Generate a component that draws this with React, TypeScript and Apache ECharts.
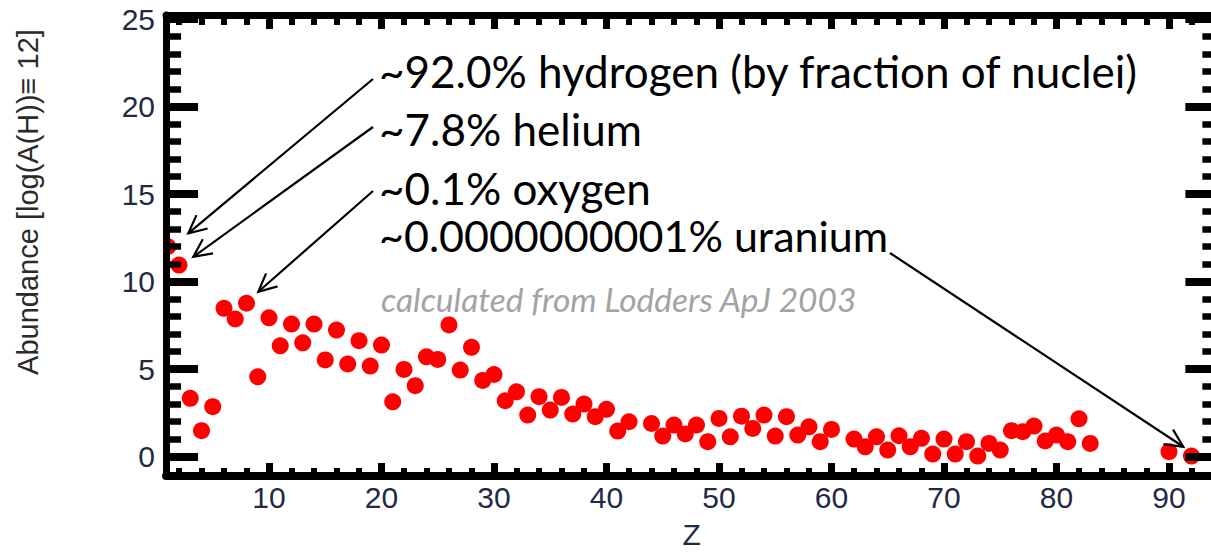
import React, { useEffect, useRef } from "react";
import * as echarts from "echarts";

// Atomic number Z and abundance log(A) with log(A(H)) = 12
const elementZ = [
  1, 2, 3, 4, 5, 6, 7, 8, 9, 10, 11, 12, 13, 14, 15, 16, 17, 18, 19, 20,
  21, 22, 23, 24, 25, 26, 27, 28, 29, 30, 31, 32, 33, 34, 35, 36, 37, 38, 39, 40,
  41, 42, 44, 45, 46, 47, 48, 49, 50, 51, 52, 53, 54, 55, 56, 57, 58, 59, 60,
  62, 63, 64, 65, 66, 67, 68, 69, 70, 71, 72, 73, 74, 75, 76, 77, 78, 79, 80,
  81, 82, 83, 90, 92,
];
const abundance = [
  12.0, 10.95, 3.34, 1.49, 2.86, 8.48, 7.87, 8.77, 4.57, 7.94, 6.34, 7.58, 6.51, 7.58, 5.53, 7.24, 5.3, 6.63, 5.18, 6.38,
  3.14, 4.99, 4.06, 5.71, 5.56, 7.53, 4.95, 6.25, 4.36, 4.7, 3.2, 3.71, 2.38, 3.43, 2.67, 3.39, 2.44, 3.01, 2.29, 2.71,
  1.47, 2.0, 1.9, 1.18, 1.81, 1.3, 1.81, 0.86, 2.19, 1.14, 2.32, 1.62, 2.38, 1.18, 2.29, 1.24, 1.71, 0.86, 1.56,
  1.01, 0.57, 1.14, 0.38, 1.2, 0.57, 1.05, 0.15, 1.01, 0.15, 0.86, 0.04, 0.76, 0.38, 1.49, 1.43, 1.75, 0.9, 1.24,
  0.86, 2.17, 0.76, 0.29, 0.04,
];

const xMajorTicks = [10, 20, 30, 40, 50, 60, 70, 80, 90];
const xMinorTicks = [
  2, 4, 6, 8, 12, 14, 16, 18, 22, 24, 26, 28, 32, 34, 36, 38, 42, 44, 46, 48,
  52, 54, 56, 58, 62, 64, 66, 68, 72, 74, 76, 78, 82, 84, 86, 88, 92,
];
const yMajorTicks = [0, 5, 10, 15, 20, 25];
const yMinorTicks = [1, 2, 3, 4, 6, 7, 8, 9, 11, 12, 13, 14, 16, 17, 18, 19, 21, 22, 23, 24];

const xTitle = "Z";
const yTitle = "Abundance [log(A(H))\u2261 12]";
const notes = [
  "~92.0% hydrogen (by fraction of nuclei)",
  "~7.8% helium",
  "~0.1% oxygen",
  "~0.0000000001% uranium",
];
const sourceNote = "calculated from Lodders ApJ 2003";
// Elements the arrows point at (Z)
const arrowTargets = [1, 2, 8, 92];

const TICK_COLOR = "#1f2a44";
const LABEL_FONT = "'Liberation Sans', Arial, sans-serif";
const NOTE_FONT = "Lato, 'Open Sans', sans-serif";

function makeXAxis(position: string, ticks: number[], length: number, width: number, lineWidth: number, labels: boolean) {
  return {
    type: "value",
    gridIndex: 0,
    position,
    min: 0.85,
    max: 94.3,
    z: 10,
    axisLine: { show: lineWidth > 0, onZero: false, lineStyle: { color: "#000", width: lineWidth || 1 } },
    axisTick: { show: true, inside: true, length, customValues: ticks, lineStyle: { color: "#000", width } },
    axisLabel: labels
      ? { show: true, customValues: ticks, margin: 6, color: TICK_COLOR, fontSize: 30, fontFamily: LABEL_FONT }
      : { show: false },
    splitLine: { show: false },
    minorTick: { show: false },
  };
}

function makeYAxis(position: string, ticks: number[], length: number, width: number, lineWidth: number, labels: boolean) {
  return {
    type: "value",
    gridIndex: 0,
    position,
    min: -1.1,
    max: 25.24,
    z: 10,
    axisLine: { show: lineWidth > 0, onZero: false, lineStyle: { color: "#000", width: lineWidth || 1 } },
    axisTick: { show: true, inside: true, length, customValues: ticks, lineStyle: { color: "#000", width } },
    axisLabel: labels
      ? { show: true, customValues: ticks, margin: 11, color: TICK_COLOR, fontSize: 30, fontFamily: LABEL_FONT }
      : { show: false },
    splitLine: { show: false },
    minorTick: { show: false },
  };
}

function arrow(sx: number, sy: number, tx: number, ty: number) {
  const ang = Math.atan2(sy - ty, sx - tx);
  const len = 20;
  const spread = 0.45;
  const a = [tx + len * Math.cos(ang + spread), ty + len * Math.sin(ang + spread)];
  const b = [tx + len * Math.cos(ang - spread), ty + len * Math.sin(ang - spread)];
  return [
    { type: "line", z: 50, shape: { x1: sx, y1: sy, x2: tx, y2: ty }, style: { stroke: "#000", lineWidth: 2.2 } },
    { type: "polyline", z: 50, shape: { points: [a, [tx, ty], b] }, style: { stroke: "#000", lineWidth: 2.2, fill: null } },
  ];
}

export default function App() {
  const ref = useRef<HTMLDivElement>(null);

  useEffect(() => {
    if (!ref.current) return;
    const chart = echarts.init(ref.current, null, { renderer: "svg" });
    const xAxis = makeXAxis("bottom", xMajorTicks, 13, 7, 8, true);
    (xAxis as any).name = xTitle;
    (xAxis as any).nameLocation = "middle";
    (xAxis as any).nameGap = 43;
    (xAxis as any).nameTextStyle = { color: TICK_COLOR, fontSize: 30, fontFamily: LABEL_FONT };

    chart.setOption({
      animation: false,
      backgroundColor: "#ffffff",
      grid: { left: 166.06, top: 15, width: 1051.3, height: 461, containLabel: false, outerBoundsMode: "none" },
      xAxis: [
        xAxis,
        makeXAxis("bottom", xMinorTicks, 8, 6, 0, false),
        makeXAxis("top", xMajorTicks, 14, 7, 7, false),
        makeXAxis("top", xMinorTicks, 10, 6, 0, false),
      ],
      yAxis: [
        makeYAxis("left", yMajorTicks, 32, 8, 7, true),
        makeYAxis("left", yMinorTicks, 15, 6.5, 0, false),
        makeYAxis("right", yMajorTicks, 32, 8, 7, false),
        makeYAxis("right", yMinorTicks, 15, 6.5, 0, false),
      ],
      series: [
        {
          type: "custom",
          xAxisIndex: 0,
          yAxisIndex: 0,
          clip: true,
          encode: { x: 0, y: 1 },
          data: elementZ.map((z, i) => [z, abundance[i]]),
          renderItem: (params: any, api: any) => {
            const p = api.coord([api.value(0), api.value(1)]);
            return {
              type: "circle",
              shape: { cx: p[0], cy: p[1], r: 8.5 },
              style: { fill: "#ff0000" },
            };
          },
          z: 1,
        },
      ],
    });

    const px = (z: number) => {
      const i = elementZ.indexOf(z);
      return chart.convertToPixel({ xAxisIndex: 0, yAxisIndex: 0 }, [z, abundance[i]]) as number[];
    };
    const [hX, hY] = px(arrowTargets[0]);
    const [heX, heY] = px(arrowTargets[1]);
    const [oX, oY] = px(arrowTargets[2]);
    const [uX, uY] = px(arrowTargets[3]);

    const textEl = (text: string, x: number, baseline: number, size: number, opts: any = {}) => ({
      type: "text",
      z: 60,
      x,
      y: baseline - 0.36 * size,
      style: {
        text,
        font: `${opts.italic ? "italic " : ""}normal ${size}px ${NOTE_FONT}`,
        fill: opts.fill || "#000",
        align: "left",
        verticalAlign: "middle",
      },
    });

    chart.setOption({
      graphic: [
        ...arrow(373, 79, hX + 20.5, hY - 13.4),
        ...arrow(373, 127, heX + 14.3, heY - 8.3),
        ...arrow(373, 191, oX + 11.8, oY - 11.5),
        ...arrow(890, 253, uX - 8.2, uY - 9.3),
        textEl(notes[0], 379, 87, 44),
        textEl(notes[1], 379, 145, 44),
        textEl(notes[2], 379, 204, 44),
        textEl(notes[3], 379, 251, 43),
        textEl(sourceNote, 381, 311, 33.5, { italic: true, fill: "#a3a3a3" }),
        {
          type: "text",
          z: 60,
          x: 28,
          y: 202,
          rotation: Math.PI / 2,
          style: {
            text: yTitle,
            font: `normal 29px ${LABEL_FONT}`,
            fill: "#2a2a2a",
            align: "center",
            verticalAlign: "middle",
          },
        },
      ],
    });

    return () => chart.dispose();
  }, []);

  return (
    <div
      ref={ref}
      style={{ position: "absolute", left: 0, top: 0, width: 1211, height: 552, background: "#fff" }}
    />
  );
}
